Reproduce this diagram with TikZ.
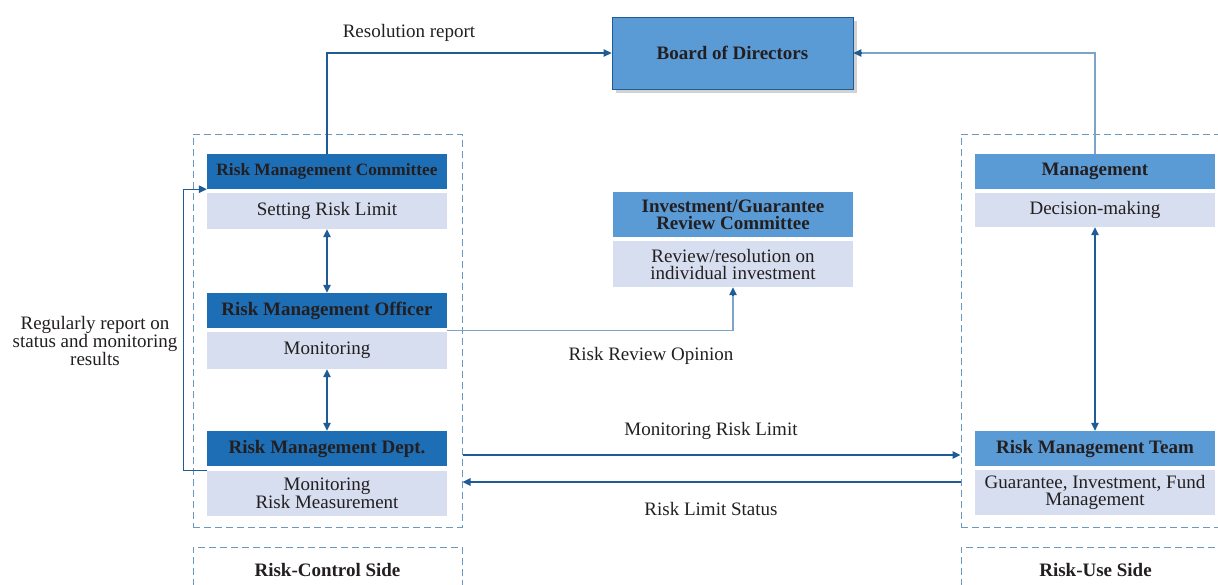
\documentclass[tikz,border=0pt]{standalone}
\usepackage{fontspec}
\setmainfont{Liberation Serif}
\usetikzlibrary{arrows.meta,shadows}
\definecolor{hdrdark}{RGB}{30,110,182}
\definecolor{hdrmid}{RGB}{91,155,213}
\definecolor{bodylight}{RGB}{214,222,240}
\definecolor{linkdark}{RGB}{31,92,150}
\definecolor{linklight}{RGB}{125,163,200}
\definecolor{dashblue}{RGB}{105,152,195}
\definecolor{txt}{RGB}{35,31,32}
\begin{document}
\begin{tikzpicture}[x=1pt,y=-1pt,
  line cap=butt, >={Triangle[length=8pt,width=7.5pt]},
  every node/.style={text=txt, font=\fontsize{19}{17}\selectfont},
  hdr/.style={minimum width=240pt, minimum height=35pt, inner sep=0pt, font=\bfseries\fontsize{19}{17}\selectfont},
  hdrdk/.style={hdr, fill=hdrdark},
  hdrmd/.style={hdr, fill=hdrmid},
  body/.style={fill=bodylight, minimum width=240pt, inner sep=0pt, align=center},
  sidebox/.style={draw=dashblue, line width=1pt, dash pattern=on 7pt off 4pt, minimum width=269pt, inner sep=0pt},
  link/.style={draw=linkdark, line width=1.2pt},
  linklt/.style={draw=linklight, line width=1.2pt}]
  \clip (0,0) rectangle (1218,584);
  % side frames
  \node[sidebox, minimum height=393pt] (ctrl) at (327.5,330.5) {};
  \node[sidebox, minimum height=393pt] (use) at (1095.5,330.5) {};
  \node[sidebox, minimum height=46pt, font=\bfseries\fontsize{19}{17}\selectfont] (ctrlside) at (327.5,570) {Risk-Control Side};
  \node[sidebox, minimum height=46pt, font=\bfseries\fontsize{19}{17}\selectfont] (useside) at (1095.5,570) {Risk-Use Side};
  % board
  \node[hdr, fill=hdrmid, draw=linkdark, line width=0.8pt, minimum width=241pt, minimum height=72pt,
        drop shadow={shadow xshift=3.5pt, shadow yshift=-3.5pt, fill=black!35}] (board) at (732.5,53) {Board of Directors};
  % risk-control side
  \node[hdrdk, font=\bfseries\fontsize{17.3}{17}\selectfont] (rmc) at (327,171.5) {Risk Management Committee};
  \node[body, minimum height=36pt] (srl) at (327,211) {Setting Risk Limit};
  \node[hdrdk] (rmo) at (327,310.5) {Risk Management Officer};
  \node[body, minimum height=37pt] (mon) at (327,350.5) {Monitoring};
  \node[hdrdk] (rmd) at (327,448.5) {Risk Management Dept.};
  \node[body, minimum height=45pt] (mrm) at (327,493.5) {Monitoring\\Risk Measurement};
  % middle
  \node[hdrmd, minimum height=45pt, align=center] (igrc) at (733,214.5) {Investment/Guarantee\\Review Committee};
  \node[body, minimum height=46pt] (rev) at (733,264) {Review/resolution on\\individual investment};
  % risk-use side
  \node[hdrmd] (mgmt) at (1095,171.5) {Management};
  \node[body, minimum height=34pt] (dec) at (1095,210) {Decision-making};
  \node[hdrmd] (rmt) at (1095,448.5) {Risk Management Team};
  \node[body, minimum height=45pt] (gif) at (1095,492.5) {Guarantee, Investment, Fund\\Management};
  % connectors
  \draw[link,->] (rmc.north) |- (board.west);
  \draw[linklt] (mgmt.north) |- ([xshift=8pt]board.east);
  \draw[link,->] ([xshift=8pt]board.east) -- (board.east);
  \draw[link,<->] (srl.south) -- (rmo.north);
  \draw[link,<->] (mon.south) -- (rmd.north);
  \draw[link,<->] (dec.south) -- (rmt.north);
  \draw[link,->] (mrm.north west) -- ++(-23,0) |- (rmc.south west);
  \draw[linklt] ([yshift=-2pt]rmo.south east) -| ([yshift=-8pt]rev.south);
  \draw[link,->] ([yshift=-8pt]rev.south) -- (rev.south);
  \draw[link,->,line width=1.5pt] (ctrl.east |- 0,455) -- (use.west |- 0,455);
  \draw[link,->,line width=1.5pt] (use.west |- 0,482) -- (ctrl.east |- 0,482);
  % labels
  \node (lres) at (409,33) {Resolution report};
  \node[align=center] (lreg) at (95,341) {Regularly report on\\status and monitoring\\results};
  \node (lrro) at (651,356) {Risk Review Opinion};
  \node (lmrl) at (711,431) {Monitoring Risk Limit};
  \node (lrls) at (711,509) {Risk Limit Status};
\end{tikzpicture}
\end{document}
